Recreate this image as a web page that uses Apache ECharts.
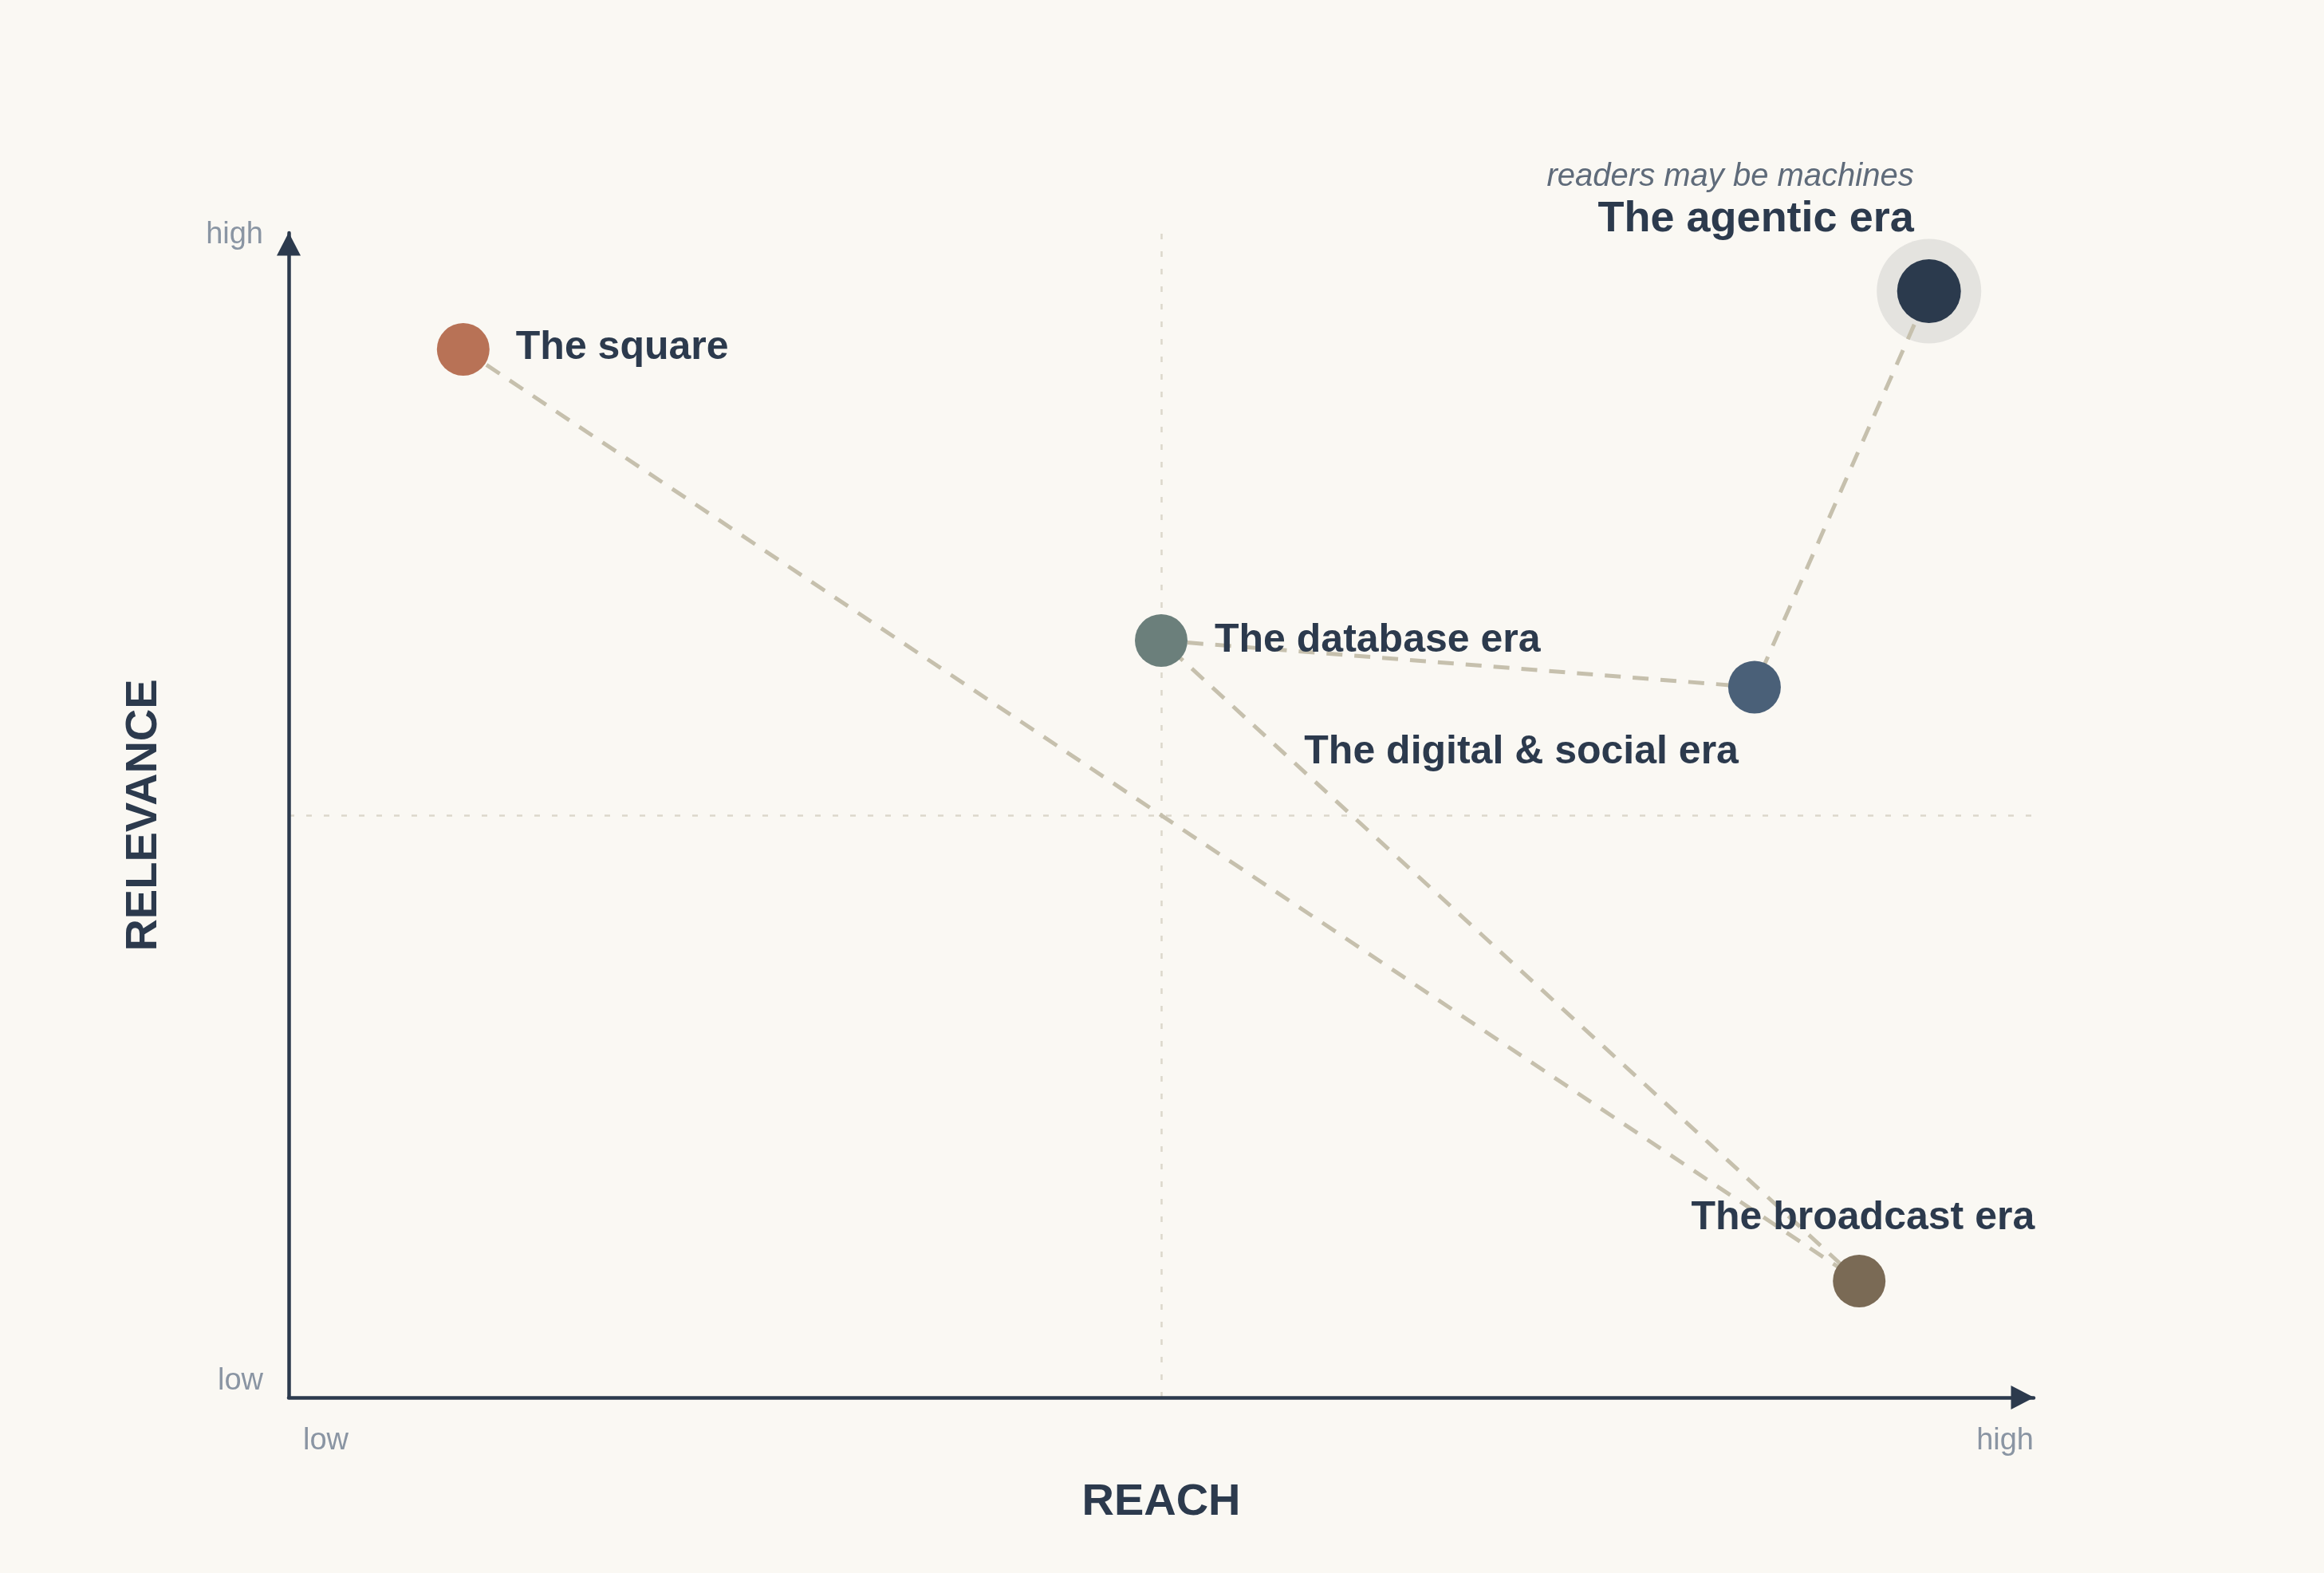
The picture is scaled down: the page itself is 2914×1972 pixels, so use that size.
<!DOCTYPE html>
<html>
<head>
<meta charset="utf-8">
<script src="https://cdn.jsdelivr.net/npm/echarts@6/dist/echarts.min.js"></script>
<style>
  html, body { margin: 0; padding: 0; background: #faf8f3; }
  #chart { width: 2914px; height: 1972px; }
</style>
</head>
<body>
<div id="chart"></div>
<script>
// ---- data ----
const eras = ['The square', 'The broadcast era', 'The database era', 'The digital & social era', 'The agentic era'];
const reach = [10, 90, 50, 84, 94];
const relevance = [90, 10, 65, 61, 95];
const reachTicks = ['low', 'high'];
const relevanceTicks = ['low', 'high'];
const reachMid = 50;
const relevanceMid = 50;
const highlightEra = 'The agentic era';
const highlightNote = 'readers may be machines';
const axisNames = { x: 'REACH', y: 'RELEVANCE' };

// ---- styles ----
const FONT = '"Liberation Sans", Arial, Helvetica, sans-serif';
const DARK = '#2c3a4d';
const GRAY = '#8a95a3';
const eraStyle = {
  'The square':              { color: '#b87256', size: 66, align: 'left',  offset: [66, -2] },
  'The broadcast era':       { color: '#7a6a55', size: 66, align: 'right', offset: [220, -79] },
  'The database era':        { color: '#6b7f7b', size: 66, align: 'left',  offset: [67, 0] },
  'The digital & social era':{ color: '#4a6078', size: 66, align: 'right', offset: [-20, 82] },
  'The agentic era':         { color: '#2b3a4d', size: 80, align: 'right', offset: [-19, -114] }
};

const points = eras.map((name, i) => {
  const st = eraStyle[name];
  const isHi = name === highlightEra;
  return {
    name: name,
    value: [reach[i], relevance[i]],
    symbolSize: st.size,
    itemStyle: { color: st.color, opacity: 1 },
    label: {
      show: true,
      position: 'inside',
      align: st.align,
      verticalAlign: 'middle',
      offset: st.offset,
      formatter: isHi ? '{sub|' + highlightNote + '}\n{title|' + name + '}' : name,
      fontFamily: FONT,
      fontSize: 50,
      fontWeight: 'bold',
      color: DARK,
      opacity: 1,
      rich: isHi ? {
        sub: { fontFamily: FONT, fontSize: 40, fontStyle: 'italic', fontWeight: 'normal', color: '#5f6b7a', lineHeight: 48, align: 'right' },
        title: { fontFamily: FONT, fontSize: 54, fontWeight: 'bold', color: DARK, lineHeight: 58, align: 'right' }
      } : undefined
    }
  };
});

const hiIdx = eras.indexOf(highlightEra);

const option = {
  animation: false,
  backgroundColor: '#faf8f3',
  grid: { left: 362, right: 364, top: 292, bottom: 220, containLabel: false },
  xAxis: {
    type: 'value', min: 0, max: 100, interval: 100,
    name: axisNames.x, nameLocation: 'middle', nameGap: 104,
    nameTextStyle: { fontFamily: FONT, fontSize: 56, fontWeight: 'bold', color: DARK },
    axisLine: { show: true, lineStyle: { color: DARK, width: 4.5 }, symbol: ['none', 'triangle'], symbolSize: [30, 29], symbolOffset: [0, -14] },
    axisTick: { show: false },
    splitLine: { show: false },
    axisLabel: {
      margin: 36,
      alignMinLabel: 'left', alignMaxLabel: 'right',
      formatter: v => v === 0 ? '{lo|' + reachTicks[0] + '}' : '{hi|' + reachTicks[1] + '}',
      rich: {
        lo: { fontFamily: FONT, fontSize: 38, color: GRAY, padding: [0, 0, 0, 18] },
        hi: { fontFamily: FONT, fontSize: 38, color: GRAY }
      }
    }
  },
  yAxis: {
    type: 'value', min: 0, max: 100, interval: 100,
    name: axisNames.y, nameLocation: 'middle', nameGap: 153, nameRotate: 90,
    nameTextStyle: { fontFamily: FONT, fontSize: 56, fontWeight: 'bold', color: DARK },
    axisLine: { show: true, lineStyle: { color: DARK, width: 4.5 }, symbol: ['none', 'triangle'], symbolSize: [30, 29], symbolOffset: [0, -14] },
    axisTick: { show: false },
    splitLine: { show: false },
    axisLabel: {
      margin: 32,
      formatter: v => v === 0 ? '{lo|' + relevanceTicks[0] + '}' : '{hi|' + relevanceTicks[1] + '}',
      rich: {
        lo: { fontFamily: FONT, fontSize: 38, color: GRAY, padding: [0, 0, 40, 0] },
        hi: { fontFamily: FONT, fontSize: 38, color: GRAY, padding: [5, 0, 0, 0] }
      }
    }
  },
  series: [
    {
      type: 'scatter', z: 1, silent: true,
      data: [{ value: [reach[hiIdx], relevance[hiIdx]] }],
      symbolSize: 131,
      itemStyle: { color: '#e4e3df', opacity: 1 },
      markLine: {
        z: 0,
        silent: true, symbol: 'none', label: { show: false },
        lineStyle: { color: '#dcd7cb', width: 2.5, type: [7, 15], opacity: 1 },
        data: [{ xAxis: reachMid }, { yAxis: relevanceMid }]
      }
    },
    {
      type: 'line', z: 2, silent: true,
      data: eras.map((n, i) => [reach[i], relevance[i]]),
      symbol: 'none',
      lineStyle: { color: '#c6c0ad', width: 5, type: [20, 15], opacity: 1 }
    },
    {
      type: 'scatter', z: 3,
      data: points
    }
  ]
};

const chart = echarts.init(document.getElementById('chart'), null, { renderer: 'canvas' });
chart.setOption(option);
</script>
</body>
</html>
